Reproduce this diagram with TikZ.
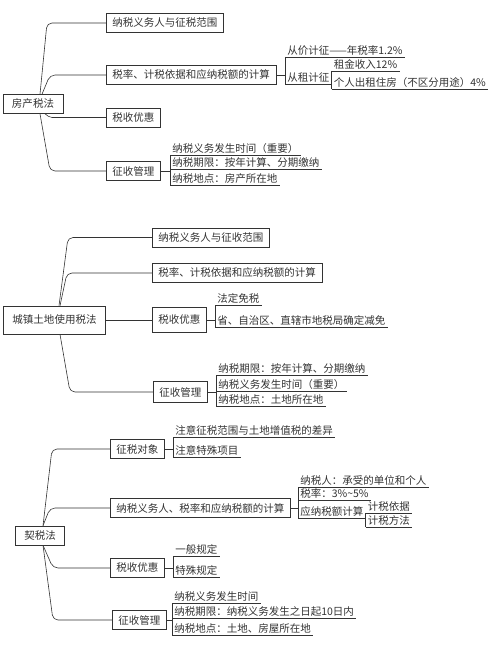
\documentclass[tikz,border=0pt]{standalone}
\usepackage{fontspec}
\setmainfont{Noto Sans CJK SC}
\begin{document}
\begin{tikzpicture}[x=1pt, y=-1pt, line width=0.6pt, color=black!80,
    root/.style={draw, inner xsep=9pt, minimum height=19pt, font=\fontsize{10.5}{12}\selectfont},
    topic/.style={draw, anchor=west, inner xsep=6pt, minimum height=19pt, font=\fontsize{10.5}{12}\selectfont},
    item/.style={anchor=south west, inner xsep=2pt, inner ysep=1.5pt, font=\fontsize{10.5}{12}\selectfont},
    branch/.style={rounded corners=5pt}]

    \useasboundingbox (0,0) rectangle (503,647);

    % Property tax
    \node[root] (fc) at (33,104) {房产税法};
    \node[topic] (fc1) at (106,23) {纳税义务人与征税范围};
    \node[topic] (fc2) at (106,75) {税率、计税依据和应纳税额的计算};
    \node[topic] (fc3) at (106,117.5) {税收优惠};
    \node[topic] (fc4) at (106,171) {征收管理};

    \draw[branch] ([xshift=7pt]fc.north) -- ([xshift=-59pt]fc1.west) -- (fc1.west);
    \draw[branch] ([xshift=9pt]fc.north) -- ([xshift=-56pt]fc2.west) -- (fc2.west);
    \draw[rounded corners=2pt] ([xshift=12pt]fc.south) -- ([xshift=-56pt]fc3.west) -- (fc3.west);
    \draw[branch] ([xshift=7pt]fc.south) -- ([xshift=-56pt]fc4.west) -- (fc4.west);

    \node[item] (fc2a) at (285,57) {从价计征——年税率1.2\%};
    \node[item] (fc2b) at (285,84) {从租计征};
    \node[item] (fc2c) at ([yshift=13pt]fc2b.south east) {租金收入12\%};
    \node[item] (fc2d) at ([yshift=-5pt]fc2b.south east) {个人出租住房（不区分用途）4\%};
    \draw (fc2.east) -- (fc2.east -| fc2a.south west);
    \draw (fc2a.south west) -- (fc2b.south west);
    \draw (fc2c.south west) -- (fc2d.south west);

    \node[item] (fc4a) at (170,155) {纳税义务发生时间（重要）};
    \node[item] (fc4b) at (170,169) {纳税期限：按年计算、分期缴纳};
    \node[item] (fc4c) at (170,185) {纳税地点：房产所在地};
    \draw (fc4.east) -- (fc4.east -| fc4a.south west);
    \draw (fc4a.south west) -- (fc4c.south west);

    % Urban land use tax
    \node[root, minimum height=28pt] (ct) at (54.5,320) {城镇土地使用税法};
    \node[topic] (ct1) at (152,237.5) {纳税义务人与征收范围};
    \node[topic] (ct2) at (152,273) {税率、计税依据和应纳税额的计算};
    \node[topic, minimum height=25pt] (ct3) at (152,320) {税收优惠};
    \node[topic, minimum height=21pt] (ct4) at (153,392) {征收管理};

    \draw[branch] ([xshift=4.5pt]ct.north) -- ([xshift=-84pt]ct1.west) -- (ct1.west);
    \draw[branch] ([xshift=5.5pt]ct.north) -- ([xshift=-85pt]ct2.west) -- (ct2.west);
    \draw (ct.east) -- (ct3.west);
    \draw[branch] ([xshift=5.5pt]ct.south) -- ([xshift=-83pt]ct4.west) -- (ct4.west);

    \node[item] (ct3a) at (215,305) {法定免税};
    \node[item] (ct3b) at (215,327) {省、自治区、直辖市地税局确定减免};
    \draw (ct3.east) -- (ct3.east -| ct3a.south west);
    \draw (ct3a.south west) -- (ct3b.south west);

    \node[item] (ct4a) at (216,375) {纳税期限：按年计算、分期缴纳};
    \node[item] (ct4b) at (216,391) {纳税义务发生时间（重要）};
    \node[item] (ct4c) at (216,406) {纳税地点：土地所在地};
    \draw (ct4.east) -- (ct4.east -| ct4a.south west);
    \draw (ct4a.south west) -- (ct4c.south west);

    % Deed tax
    \node[root] (qs) at (40,535.5) {契税法};
    \node[topic] (qs1) at (110,449) {征税对象};
    \node[topic] (qs2) at (110,508) {纳税义务人、税率和应纳税额的计算};
    \node[topic] (qs3) at (110,568) {税收优惠};
    \node[topic] (qs4) at (112,620) {征收管理};

    \draw[branch] ([xshift=3pt]qs.north) -- ([xshift=-58pt]qs1.west) -- (qs1.west);
    \draw[branch] ([xshift=3pt]qs.north) -- ([xshift=-60pt]qs2.west) -- (qs2.west);
    \draw[branch] ([xshift=3pt]qs.south) -- ([xshift=-57pt]qs3.west) -- (qs3.west);
    \draw[branch] ([xshift=3pt]qs.south) -- ([xshift=-59pt]qs4.west) -- (qs4.west);

    \node[item] (qs1a) at (173,437) {注意征税范围与土地增值税的差异};
    \node[item] (qs1b) at (173,457) {注意特殊项目};
    \draw (qs1.east) -- (qs1.east -| qs1a.south west);
    \draw (qs1a.south west) -- (qs1b.south west);

    \node[item] (qs2a) at (298,487) {纳税人：承受的单位和个人};
    \node[item] (qs2b) at (298,500) {税率：3\%\textasciitilde5\%};
    \node[item] (qs2c) at (298,518) {应纳税额计算};
    \node[item] (qs2d) at ([yshift=5pt]qs2c.south east) {计税依据};
    \node[item] (qs2e) at ([yshift=-9pt]qs2c.south east) {计税方法};
    \draw (qs2.east) -- (qs2.east -| qs2a.south west);
    \draw (qs2a.south west) -- (qs2c.south west);
    \draw (qs2d.south west) -- (qs2e.south west);

    \node[item] (qs3a) at (173,556) {一般规定};
    \node[item] (qs3b) at (173,577) {特殊规定};
    \draw (qs3.east) -- (qs3.east -| qs3a.south west);
    \draw (qs3a.south west) -- (qs3b.south west);

    \node[item] (qs4a) at (172,603) {纳税义务发生时间};
    \node[item] (qs4b) at (172,618) {纳税期限：纳税义务发生之日起10日内};
    \node[item] (qs4c) at (172,635) {纳税地点：土地、房屋所在地};
    \draw (qs4.east) -- (qs4.east -| qs4a.south west);
    \draw (qs4a.south west) -- (qs4c.south west);

    % Underlines
    \foreach \n in {fc2a,fc2b,fc2c,fc2d,fc4a,fc4b,fc4c,ct3a,ct3b,ct4a,ct4b,ct4c,
                    qs1a,qs1b,qs2a,qs2b,qs2c,qs2d,qs2e,qs3a,qs3b,qs4a,qs4b,qs4c}
    \draw (\n.south west) -- (\n.south east);

\end{tikzpicture}
\end{document}
